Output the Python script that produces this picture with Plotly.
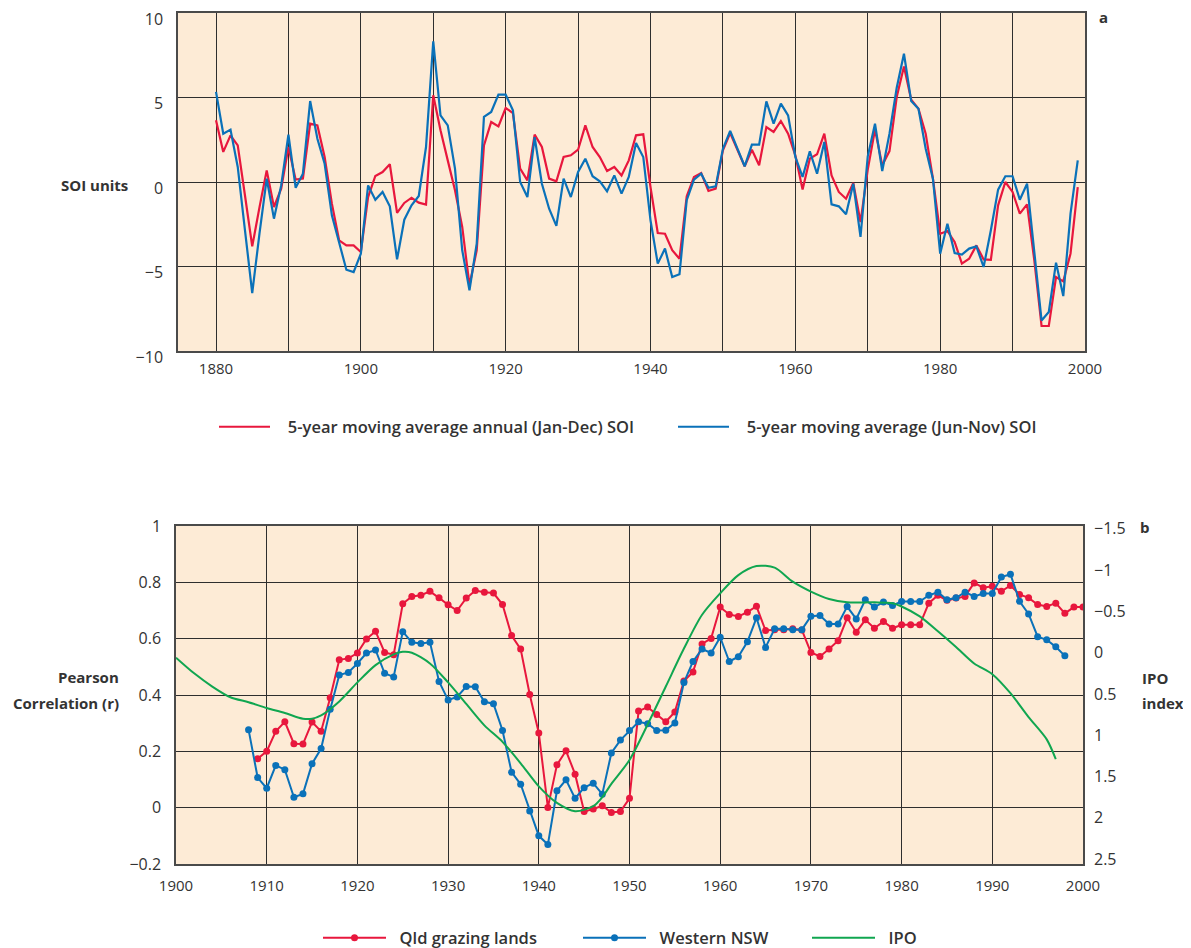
import plotly.graph_objects as go

# ---- panel a: 5-year moving average SOI, 1880-1999
soi_years = list(range(1880, 2000))
soi_annual = [
    3.65, 1.78, 2.76, 2.17, -0.8, -3.81, -1.5, 0.69, -1.48, -0.39,
    2.07, 0.14, 0.2, 3.45, 3.35, 1.48, -1.28, -3.45, -3.75, -3.75,
    -4.14, -0.89, 0.36, 0.59, 1.05, -1.83, -1.24, -0.93, -1.22, -1.34,
    5.13, 3.06, 1.28, -0.49, -2.66, -6.11, -4.04, 2.17, 3.55, 3.29,
    4.38, 4.08, 0.79, 0.1, 2.8, 2.07, 0.2, 0.04, 1.48, 1.58,
    1.91, 3.35, 2.07, 1.48, 0.65, 0.89, 0.39, 1.28, 2.76, 2.82,
    -0.3, -3.02, -3.06, -4.04, -4.54, -0.85, 0.3, 0.53, -0.53, -0.39,
    1.87, 2.9, 1.91, 0.93, 1.91, 0.99, 3.25, 2.96, 3.61, 2.86,
    1.58, -0.45, 1.38, 1.64, 2.86, 0.39, -0.59, -0.99, -0.06, -2.37,
    0.73, 3.1, 0.99, 1.83, 5.03, 6.84, 4.87, 4.34, 2.86, 0.2,
    -3.06, -2.9, -3.55, -4.83, -4.54, -3.75, -4.58, -4.6, -1.38, 0.0,
    -0.59, -1.87, -1.32, -4.64, -8.52, -8.52, -5.62, -5.88, -4.24, -0.3,
]
soi_jun_nov = [
    5.33, 2.86, 3.10, 0.89, -2.86, -6.57, -3.06, 0.2, -2.17, -0.2,
    2.8, -0.34, 0.49, 4.79, 2.56, 1.08, -1.97, -3.55, -5.19, -5.33,
    -4.24, -0.2, -1.05, -0.59, -1.44, -4.58, -2.23, -1.38, -0.83, 2.07,
    8.32, 3.94, 3.35, 0.79, -4.04, -6.41, -3.65, 3.85, 4.14, 5.17,
    5.17, 4.24, 0.0, -0.89, 2.66, -0.1, -1.58, -2.6, 0.2, -0.89,
    0.59, 1.38, 0.34, 0.04, -0.55, 0.39, -0.69, 0.3, 2.31, 1.48,
    -2.27, -4.83, -3.94, -5.62, -5.46, -1.08, 0.14, 0.49, -0.34, -0.26,
    1.97, 3.02, 1.97, 0.93, 2.21, 2.21, 4.77, 3.45, 4.64, 3.94,
    1.48, 0.3, 1.81, 0.49, 2.37, -1.32, -1.44, -1.91, -0.1, -3.25,
    1.52, 3.45, 0.65, 2.86, 5.58, 7.59, 4.79, 4.34, 1.97, 0.2,
    -4.24, -2.47, -4.2, -4.3, -3.94, -3.81, -5.03, -2.86, -0.45, 0.34,
    0.34, -1.05, -0.1, -4.24, -8.19, -7.69, -4.77, -6.75, -1.87, 1.28,
]

# ---- panel b: Pearson correlation and IPO index
qld_years = list(range(1909, 2001))
qld_r = [
    0.174, 0.2, 0.271, 0.305, 0.227, 0.226, 0.304, 0.271, 0.39, 0.525,
    0.53, 0.549, 0.599, 0.626, 0.551, 0.543, 0.724, 0.75, 0.754, 0.768,
    0.745, 0.72, 0.7, 0.744, 0.771, 0.765, 0.762, 0.721, 0.611, 0.563,
    0.402, 0.265, 0.001, 0.152, 0.202, 0.119, -0.014, -0.005, 0.007, -0.017,
    -0.014, 0.033, 0.343, 0.357, 0.331, 0.305, 0.34, 0.45, 0.482, 0.581,
    0.601, 0.712, 0.686, 0.679, 0.694, 0.715, 0.629, 0.632, 0.632, 0.635,
    0.631, 0.551, 0.537, 0.563, 0.593, 0.674, 0.623, 0.667, 0.637, 0.661,
    0.637, 0.649, 0.649, 0.649, 0.726, 0.754, 0.736, 0.744, 0.75, 0.798,
    0.781, 0.786, 0.768, 0.789, 0.757, 0.745, 0.721, 0.714, 0.726, 0.69,
    0.712, 0.712,
]
nsw_years = list(range(1908, 1999))
nsw_r = [
    0.277, 0.107, 0.069, 0.15, 0.135, 0.037, 0.049, 0.156, 0.21, 0.349,
    0.471, 0.48, 0.512, 0.549, 0.56, 0.477, 0.464, 0.625, 0.587, 0.583,
    0.587, 0.448, 0.382, 0.393, 0.43, 0.429, 0.376, 0.369, 0.274, 0.126,
    0.083, -0.012, -0.1, -0.131, 0.06, 0.099, 0.033, 0.071, 0.087, 0.048,
    0.194, 0.24, 0.274, 0.305, 0.298, 0.274, 0.275, 0.301, 0.444, 0.519,
    0.563, 0.549, 0.605, 0.519, 0.536, 0.589, 0.674, 0.569, 0.635, 0.635,
    0.632, 0.632, 0.68, 0.682, 0.652, 0.652, 0.714, 0.67, 0.738, 0.712,
    0.73, 0.718, 0.732, 0.732, 0.732, 0.754, 0.765, 0.738, 0.745, 0.765,
    0.75, 0.76, 0.76, 0.819, 0.829, 0.733, 0.688, 0.607, 0.596, 0.571,
    0.539,
]
ipo_years = [
    1900, 1902, 1904, 1906, 1908, 1910, 1912, 1914, 1915, 1916,
    1918, 1920, 1922, 1924, 1925, 1926, 1928, 1930, 1932, 1934,
    1936, 1938, 1940, 1942, 1944, 1946, 1947, 1948, 1950, 1952,
    1954, 1956, 1958, 1960, 1962, 1964, 1966, 1968, 1970, 1972,
    1974, 1977, 1979, 1980, 1982, 1984, 1986, 1988, 1990, 1992,
    1994, 1996, 1997,
]
ipo_index = [
    0.06, 0.25, 0.41, 0.54, 0.60, 0.67, 0.73, 0.80, 0.80, 0.76,
    0.59, 0.36, 0.15, 0.02, -0.01, 0.0, 0.13, 0.36, 0.62, 0.88,
    1.08, 1.34, 1.62, 1.82, 1.92, 1.86, 1.75, 1.59, 1.30, 0.87,
    0.41, -0.05, -0.46, -0.72, -0.94, -1.05, -1.03, -0.86, -0.74, -0.65,
    -0.61, -0.61, -0.60, -0.56, -0.44, -0.26, -0.07, 0.13, 0.26, 0.49,
    0.78, 1.05, 1.29,
]
ipo_ticks = [-1.5, -1, -0.5, 0, 0.5, 1, 1.5, 2, 2.5]

RED = "#E8173D"
BLUE = "#0A71B9"
GREEN = "#10A650"
BG = "#FDEBD6"
GRID = "#2E2E2E"
TEXT = "#333333"
FONT = "Open Sans"

# the page body adds an 8px offset, so the figure is drawn 8px smaller
OFF = 8
W, H = 1191 - OFF, 948 - OFF
ML, MT = 176 - OFF, 13 - OFF
MR, MB = W - (1085 - OFF), H - (864 - OFF)
PW, PH = W - ML - MR, H - MT - MB


def fx(px):
    # screen pixel -> paper fraction
    return (px - OFF - ML) / PW


def fy(py):
    return (H - MB - (py - OFF)) / PH


fig = go.Figure()

fig.add_trace(go.Scatter(
    x=soi_years, y=soi_annual, mode="lines", xaxis="x", yaxis="y",
    name="\u00a0\u00a0\u00a05-year moving average annual (Jan-Dec) SOI",
    line=dict(color=RED, width=2.2), legend="legend",
))
fig.add_trace(go.Scatter(
    x=soi_years, y=soi_jun_nov, mode="lines", xaxis="x", yaxis="y",
    name="\u00a0\u00a0\u00a05-year moving average (Jun-Nov) SOI",
    line=dict(color=BLUE, width=2.2), legend="legend2",
))
fig.add_trace(go.Scatter(
    x=qld_years, y=qld_r, mode="lines+markers", xaxis="x2", yaxis="y2",
    name="\u00a0\u00a0Qld grazing lands",
    line=dict(color=RED, width=2), marker=dict(size=7, color=RED),
    legend="legend3",
))
fig.add_trace(go.Scatter(
    x=nsw_years, y=nsw_r, mode="lines+markers", xaxis="x2", yaxis="y2",
    name="\u00a0\u00a0Western NSW",
    line=dict(color=BLUE, width=2), marker=dict(size=7, color=BLUE),
    legend="legend4",
))
fig.add_trace(go.Scatter(
    x=ipo_years, y=ipo_index, mode="lines", xaxis="x2", yaxis="y3",
    name="\u00a0\u00a0IPO",
    line=dict(color=GREEN, width=2, shape="spline", smoothing=0.8),
    legend="legend5",
))

tick_font = dict(family=FONT, size=16, color=TEXT)
axis_common = dict(
    showline=True, mirror=True, linecolor="#4A4A4A", linewidth=1.5,
    gridcolor=GRID, gridwidth=1, zeroline=False, ticks="",
    showspikes=False,
)

top_ticks = list(range(1880, 2001, 10))
legend_font = dict(family=FONT, size=16.5, color=TEXT, weight=600)


def legend_at(line_start, y, width):
    return dict(
        orientation="h", x=fx(line_start - 5), xanchor="left",
        y=fy(y), yanchor="middle", font=legend_font, itemwidth=width,
        bgcolor="rgba(0,0,0,0)", borderwidth=0,
    )


fig.update_layout(
    width=W, height=H,
    margin=dict(l=ML, r=MR, t=MT, b=MB, autoexpand=False),
    paper_bgcolor="white", plot_bgcolor=BG,
    font=dict(family=FONT, color=TEXT),
    xaxis=dict(
        domain=[fx(178), 1.0], range=[1874.75, 2000], anchor="y",
        tickvals=top_ticks,
        ticktext=[str(t) if t % 20 == 0 else "" for t in top_ticks],
        tickfont=dict(family=FONT, size=15, color=TEXT),
        ticklabelstandoff=3, **axis_common,
    ),
    yaxis=dict(
        domain=[fy(351), 1.0], range=[-10, 10], dtick=5, anchor="x",
        tickfont=tick_font, ticklabelstandoff=10, ticklabelshift=6,
        ticklabeloverflow="allow", **axis_common,
    ),
    xaxis2=dict(
        domain=[0, fx(1083)], range=[1900, 2000], dtick=10, anchor="y2",
        tickfont=dict(family=FONT, size=15, color=TEXT),
        ticklabelstandoff=7, **axis_common,
    ),
    yaxis2=dict(
        domain=[0, fy(526)], range=[-0.2, 1.0], dtick=0.2, anchor="x2",
        tickformat=".1~f", tickfont=tick_font, ticklabelstandoff=10,
        **axis_common,
    ),
    yaxis3=dict(
        overlaying="y2", side="right", anchor="x2",
        range=[2.56, -1.535], tickvals=ipo_ticks,
        ticktext=[f"{t:g}".replace("-", "\u2212") for t in ipo_ticks],
        showgrid=False, showline=False, zeroline=False, ticks="",
        tickfont=tick_font, ticklabelstandoff=10,
    ),
    legend=legend_at(219, 427, 51),
    legend2=legend_at(678, 427, 51),
    legend3=legend_at(323, 938, 63),
    legend4=legend_at(583, 938, 63),
    legend5=legend_at(812, 938, 63),
    showlegend=True,
)

label_font = dict(family=FONT, size=15, color=TEXT, weight=700)
labels = [
    ("SOI units", 130, 185, "right"),
    ("Pearson", 121, 677, "right"),
    ("Correlation (r)", 121, 703, "right"),
    ("IPO", 1140, 678, "left"),
    ("index", 1140, 703, "left"),
    ("a", 1097, 17, "left"),
    ("b", 1138, 527, "left"),
]
for text, px, py, anchor in labels:
    fig.add_annotation(
        text=text, xref="paper", yref="paper", x=fx(px), y=fy(py),
        xanchor=anchor, yanchor="middle", showarrow=False, font=label_font,
    )

fig.write_html("out.html")
